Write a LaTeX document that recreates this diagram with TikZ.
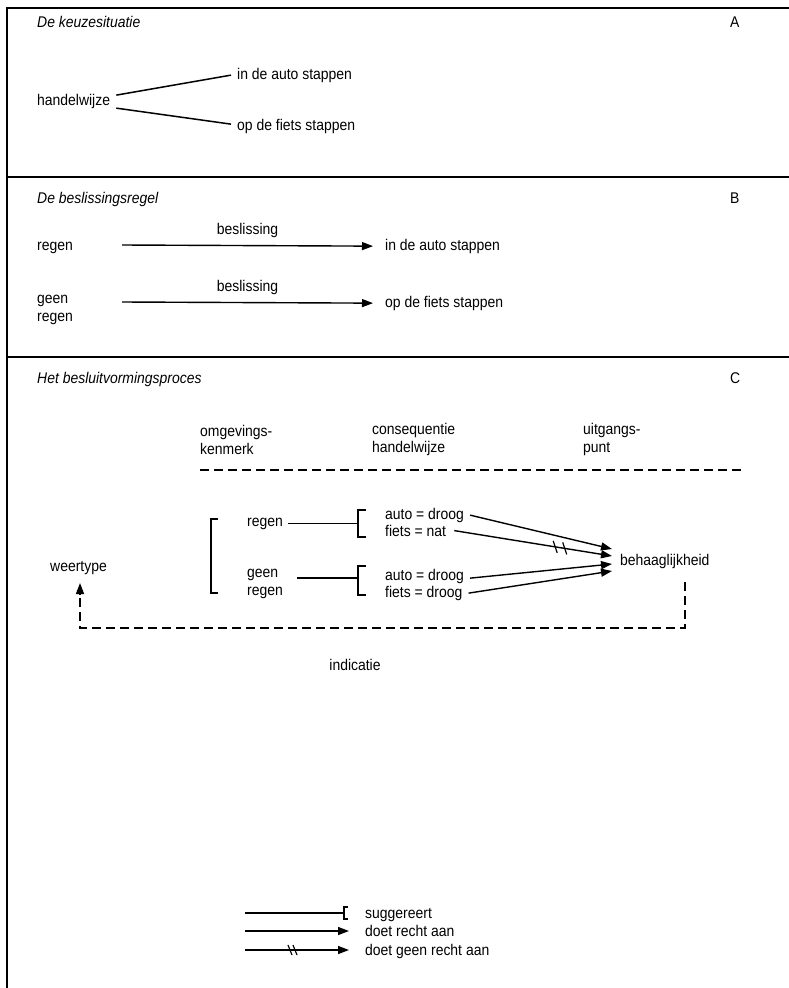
\documentclass[tikz,border=0pt]{standalone}
\usepackage{fontspec}
\setmainfont{Liberation Sans}[FakeStretch=0.9]
\usetikzlibrary{calc,arrows.meta}
\begin{document}
\begin{tikzpicture}[x=1pt,y=-1pt,
  txt/.style={inner sep=0pt,anchor=mid west,yshift=-2.5pt,font=\fontsize{15.5}{18}\selectfont},
  ttl/.style={txt,font=\fontsize{15.5}{18}\selectfont\itshape},
  ml/.style={txt,align=left,anchor=west},
  frame/.style={line width=2pt},
  ln/.style={line width=1.5pt},
  tip/.style={-{Triangle[length=11pt,width=8pt]}},
  arr/.style={line width=1.4pt,tip},
  strike/.style={line width=1.2pt},
  dsh/.style={line width=1.6pt,dash pattern=on 9pt off 5pt}]
\useasboundingbox (0,0) rectangle (789,988);
% frame
\draw[frame] (789,8) -- (7,8) -- (7,988);
\draw[frame] (7,177) -- (789,177);
\draw[frame] (7,357) -- (789,357);
% section A
\node[ttl] (tA) at (37,22) {De keuzesituatie};
\node[txt] (lA) at (730,22) {A};
\node[txt] (hw) at (37,100) {handelwijze};
\node[txt] (ia) at (237,74) {in de auto stappen};
\node[txt] (of) at (237,125) {op de fiets stappen};
\draw[ln] ($(hw.east)+(6,-6)$) -- ($(ia.west)+(-6,0)$);
\draw[ln] ($(hw.east)+(6,7)$) -- ($(of.west)+(-6,-2)$);
% section B
\node[ttl] (tB) at (37,198) {De beslissingsregel};
\node[txt] (lB) at (730,198) {B};
\node[txt] (rg) at (37,245) {regen};
\node[txt] (ia2) at (385,245) {in de auto stappen};
\coordinate (b1s) at (122,245);
\draw[arr] (b1s) -- ($(ia2.west)+(-12,0)$) node[midway,above=7pt,inner sep=0pt,font=\fontsize{15.5}{18}\selectfont] (bs1) {beslissing};
\node[ml] (gr) at (37,307) {geen\\regen};
\node[txt] (of2) at (385,302) {op de fiets stappen};
\coordinate (b2s) at (122,302);
\draw[arr] (b2s) -- ($(of2.west)+(-12,0)$) node[midway,above=7pt,inner sep=0pt,font=\fontsize{15.5}{18}\selectfont] (bs2) {beslissing};
% section C
\node[ttl] (tC) at (37,378) {Het besluitvormingsproces};
\node[txt] (lC) at (730,378) {C};
\node[ml] (h1) at (200,437) {omgevings-\\kenmerk};
\node[ml] (h2) at (372,437) {consequentie\\handelwijze};
\node[ml] (h3) at (583,437) {uitgangs-\\punt};
\draw[dsh] (200,470) -- (745,470);
% big bracket
\draw[ln] (218,519) -- (211,519) -- (211,593) -- (218,593);
\node[txt] (r1) at (247,521) {regen};
\node[ml] (g1) at (247,581) {geen\\regen};
% small brackets
\draw[ln] (366,510) -- (358,510) -- (358,537) -- (366,537);
\draw[ln] (366,566) -- (358,566) -- (358,595) -- (366,595);
\coordinate (bk1) at (358,523);
\coordinate (bk2) at (358,578);
\draw[ln] ($(r1.east)+(5,0)$) -- (r1.east -| bk1);
\draw[ln] (297,578) -- (bk2);
\node[txt] (c1) at (385,514) {auto = droog};
\node[txt] (c2) at (385,531) {fiets = nat};
\node[txt] (c3) at (385,575) {auto = droog};
\node[txt] (c4) at (385,592) {fiets = droog};
\node[txt] (beh) at (620,560) {behaaglijkheid};
\coordinate (e1) at (612,549);
\coordinate (e2) at (612,556);
\coordinate (e3) at (612,564);
\coordinate (e4) at (612,571);
\draw[arr] ($(c1.east)+(6,0)$) -- (e1);
\draw[arr] ($(c2.east)+(8,0)$) coordinate (s2) -- (e2);
\draw[arr] ($(c3.east)+(6,2)$) -- (e3);
\draw[arr] ($(c4.east)+(6,0)$) -- (e4);
\coordinate (x1) at ($(s2)!0.64!(e2)$);
\coordinate (x2) at ($(s2)!0.70!(e2)$);
\draw[strike] ($(x1)+(-2,-6)$) -- ($(x1)+(2,6)$);
\draw[strike] ($(x2)+(-2,-6)$) -- ($(x2)+(2,6)$);
% feedback
\node[txt] (wt) at (50,566) {weertype};
\coordinate (fb1) at (685,582);
\coordinate (fb2) at (685,628);
\coordinate (fb3) at (80,628);
\coordinate (fb4) at (80,583);
\draw[dsh] (fb1) -- (fb2) -- (fb3) -- ($(fb4)+(0,8)$);
\draw[arr] ($(fb4)+(0,12)$) -- (fb4);
\node[txt,anchor=center] (ind) at (355,662) {indicatie};
% legend
\coordinate (l1a) at (245,913);
\coordinate (l1b) at (344,913);
\draw[ln] (l1a) -- (l1b);
\draw[ln] ($(l1b)+(4,-6)$) -- ($(l1b)+(0,-6)$) -- ($(l1b)+(0,6)$) -- ($(l1b)+(4,6)$);
\node[txt] (lg1) at (365,913) {suggereert};
\coordinate (l2a) at (245,931);
\coordinate (l2b) at (349,931);
\draw[arr] (l2a) -- (l2b);
\node[txt] (lg2) at (365,931) {doet recht aan};
\coordinate (l3a) at (245,950);
\coordinate (l3b) at (349,950);
\draw[arr] (l3a) -- (l3b);
\draw[strike] (288,945) -- (292,955);
\draw[strike] (293,945) -- (297,955);
\node[txt] (lg3) at (365,950) {doet geen recht aan};
\end{tikzpicture}
\end{document}
